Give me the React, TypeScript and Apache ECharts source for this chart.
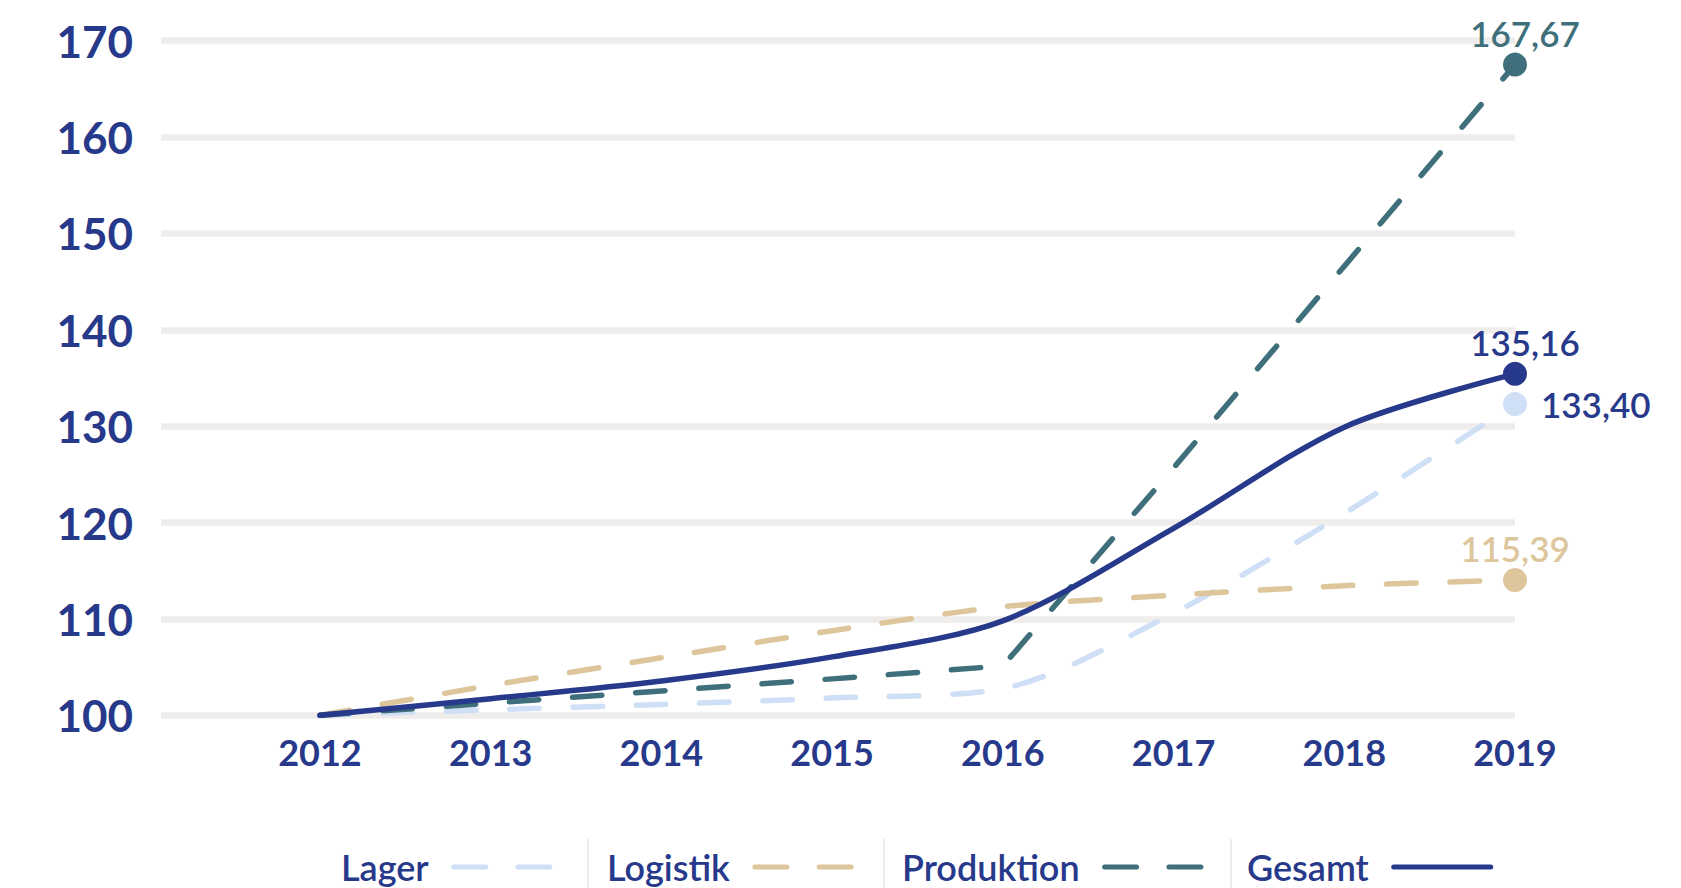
import React, { useEffect, useRef } from 'react';
import * as echarts from 'echarts';

// ---- data ----
const years = [2012, 2013, 2014, 2015, 2016, 2017, 2018, 2019];
const seriesNames = ['Lager', 'Logistik', 'Produktion', 'Gesamt'];
const lager = [100, 100.57, 101.13, 101.8, 102.78, 110.6, 120.95, 132.3];
const logistik = [100, 103.1, 105.97, 108.78, 111.27, 112.46, 113.45, 114.04];
const produktion = [100, 101.26, 102.53, 103.78, 105.12, 125.67, 146.6, 167.52];
const gesamt = [100, 101.72, 103.56, 106.06, 109.8, 119.4, 129.9, 135.43];
const endLabels = ['133,40', '115,39', '167,67', '135,16'];
const yMin = 100;
const yMax = 170;
const yStep = 10;

// ---- styles ----
const DARK = '#27398a';
const TEAL = '#3f6f7a';
const TAN = '#ddc69c';
const LIGHT = '#cfdff5';
const GRID = '#eeedeb';
const FONT = 'Lato';

const colors = [LIGHT, TAN, TEAL, DARK];
const labelColors = [DARK, TAN, TEAL, DARK];
const dashed = [true, true, true, false];
const smoothing = [0.3, 0.3, false, 0.3];
const labelPos = ['right', 'top', 'top', 'top'];
const labelDist = [14, 2, 2, 2];
const labelOffset = [[0, 0], [0, 0], [10, 0], [10, 0]];
const legendLefts = [341, 607, 902, 1247];
const xMinPad = 0.931;

export default function App() {
  const ref = useRef<HTMLDivElement>(null);

  useEffect(() => {
    if (!ref.current) return;
    const chart = echarts.init(ref.current, undefined, { renderer: 'svg' });
    const allValues = [lager, logistik, produktion, gesamt];

    const series = allValues.map((vals, s) => {
      const last = vals.length - 1;
      return {
        type: 'line',
        name: seriesNames[s],
        smooth: smoothing[s],
        symbol: 'circle',
        symbolSize: (_v: any, p: any) => (p.dataIndex === last ? 24 : 0),
        showSymbol: true,
        showAllSymbol: true,
        z: 2 + s,
        lineStyle: {
          color: colors[s],
          width: 5.5,
          type: dashed[s] ? [29.5, 33.8] : 'solid',
          cap: 'round',
          join: 'round',
        },
        itemStyle: { color: colors[s] },
        emphasis: { disabled: true },
        label: { show: false },
        data: vals.map((v, i) =>
          i === last
            ? {
                value: [years[i], v],
                label: {
                  show: true,
                  position: labelPos[s],
                  distance: labelDist[s],
                  offset: labelOffset[s],
                  formatter: endLabels[s],
                  color: labelColors[s],
                  fontFamily: FONT,
                  fontSize: 35,
                  fontWeight: 600,
                },
              }
            : [years[i], v]
        ),
      };
    });

    const legends = seriesNames.map((n, i) => ({
      data: [n],
      left: legendLefts[i],
      top: 847,
      padding: 0,
      align: 'right',
      orient: 'horizontal',
      itemWidth: 97,
      itemHeight: 14,
      selectedMode: false,
      itemStyle: { opacity: 0 },
      lineStyle: {
        width: 5,
        type: dashed[i] ? [32, 32.3] : 'solid',
        cap: 'round',
      },
      textStyle: {
        color: DARK,
        fontFamily: FONT,
        fontSize: 36,
        fontWeight: 600,
        lineHeight: 40,
        padding: [0, 20, 0, 0],
      },
    }));

    chart.setOption({
      animation: false,
      backgroundColor: '#ffffff',
      grid: { left: 161, right: 166, top: 40.7, bottom: 172.7, containLabel: false },
      xAxis: {
        type: 'value',
        min: years[0] - xMinPad,
        max: years[years.length - 1],
        minInterval: 1,
        maxInterval: 1,
        axisLine: { show: false },
        axisTick: { show: false },
        splitLine: { show: false },
        axisLabel: {
          margin: 19,
          color: DARK,
          fontFamily: FONT,
          fontSize: 36,
          fontWeight: 700,
          showMinLabel: false,
          formatter: (v: number) =>
            Math.abs(v - Math.round(v)) < 1e-6 ? String(Math.round(v)) : '',
        },
      },
      yAxis: {
        type: 'value',
        min: yMin,
        max: yMax,
        interval: yStep,
        axisLine: { show: false },
        axisTick: { show: false },
        splitLine: { lineStyle: { color: GRID, width: 6.5 } },
        axisLabel: {
          margin: 28,
          color: DARK,
          fontFamily: FONT,
          fontSize: 44,
          fontWeight: 700,
        },
      },
      legend: legends,
      graphic: [588, 884, 1231].map((x) => ({
        type: 'line',
        silent: true,
        shape: { x1: x, y1: 839, x2: x, y2: 888 },
        style: { stroke: '#e6e6e6', lineWidth: 1.5 },
      })),
      series,
    } as any);

    return () => chart.dispose();
  }, []);

  return (
    <div
      ref={ref}
      style={{ position: 'fixed', left: 0, top: 0, width: 1681, height: 888 }}
    />
  );
}
